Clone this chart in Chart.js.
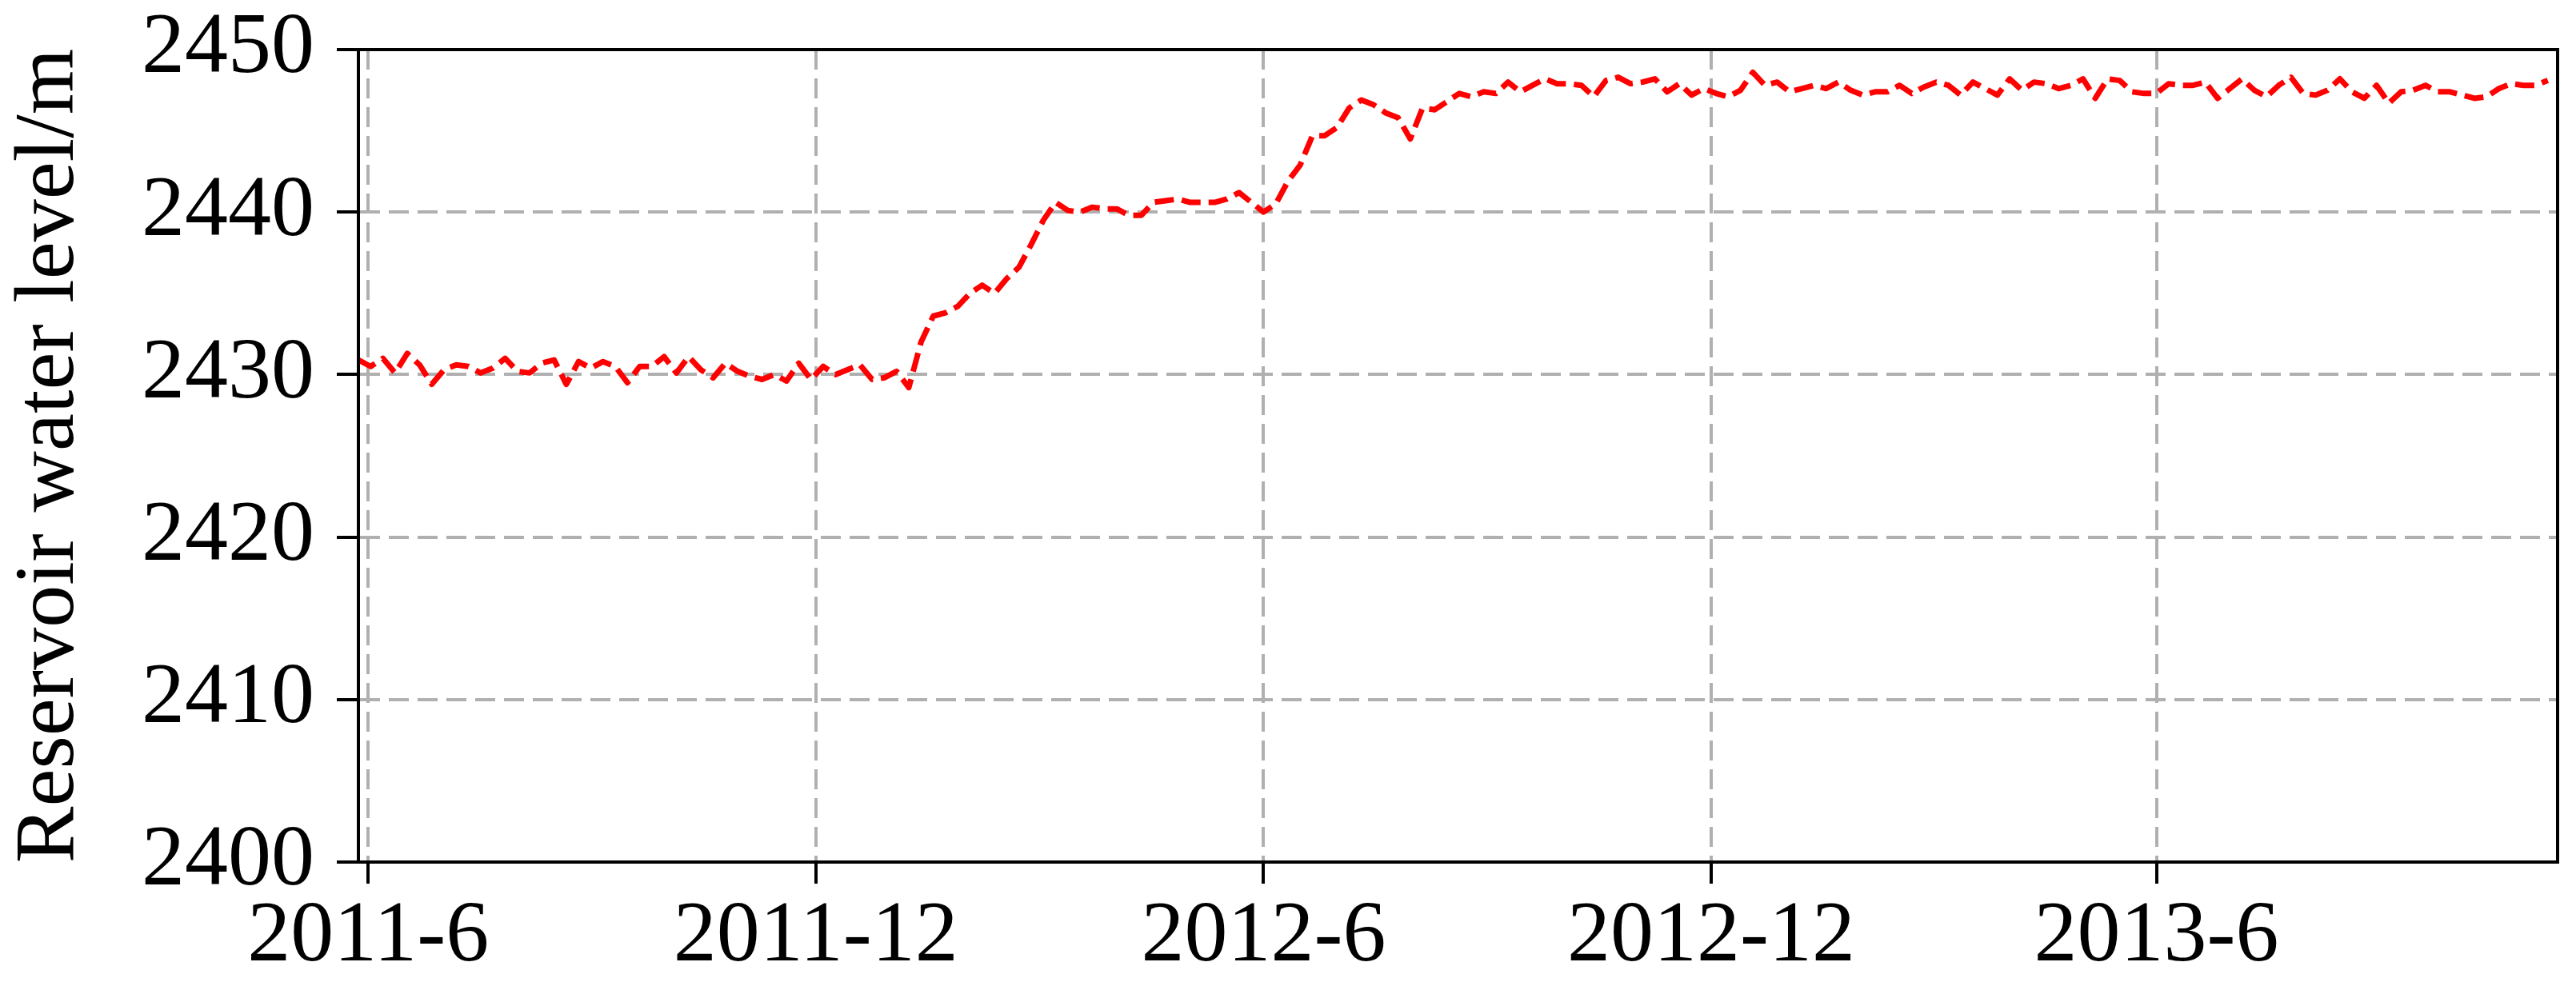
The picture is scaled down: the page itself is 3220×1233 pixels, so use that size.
<!DOCTYPE html>
<html>
<head>
<meta charset="utf-8">
<title>Reservoir water level</title>
<script src="https://cdn.jsdelivr.net/npm/chart.js@4/dist/chart.umd.min.js"></script>
<style>
  html, body { margin: 0; padding: 0; background: #fff; }
  canvas { display: block; }
</style>
</head>
<body>
<canvas id="levelChart" width="3220" height="1233"></canvas>
<script>
/* =========================
   Data (days counted from 2011-06-01)
========================= */
const tickDays = [0, 183, 366, 549, 731];
const tickLabels = ["2011-6", "2011-12", "2012-6", "2012-12", "2013-6"];
const yTicks = [2400, 2410, 2420, 2430, 2440, 2450];

// one reading every 5 days, first one on day -4
const firstDay = -4;
const stepDays = 5;

const levelsLowPool = [
  2430.9, 2430.5, 2431.0, 2430.1, 2431.3, 2430.6, 2429.4, 2430.3, 2430.6, 2430.5,
  2430.1, 2430.4, 2431.0, 2430.2, 2430.1, 2430.7, 2430.9, 2429.4, 2430.8, 2430.4,
  2430.8, 2430.5, 2429.5, 2430.5, 2430.5, 2431.1, 2430.1, 2431.1, 2430.3, 2429.8,
  2430.7, 2430.2, 2429.9, 2429.7, 2430.0, 2429.6, 2430.7, 2429.7, 2430.5, 2430.0,
  2430.3, 2430.6, 2429.7, 2429.8, 2430.2, 2429.2
];
const levelsFilling = [
  2432.0, 2433.6, 2433.8, 2434.2, 2435.0, 2435.5, 2435.0, 2435.9, 2436.6, 2438.0,
  2439.5, 2440.6, 2440.1, 2440.0, 2440.3, 2440.2, 2440.2, 2439.8, 2439.8, 2440.6,
  2440.7, 2440.8, 2440.6, 2440.6, 2440.6, 2440.8, 2441.2, 2440.6, 2440.0, 2440.5,
  2441.9, 2442.9
];
const levelsHigh2012 = [
  2444.7, 2444.7, 2445.2, 2446.4, 2446.9, 2446.6, 2446.1, 2445.8, 2444.5, 2446.4,
  2446.3, 2446.8, 2447.3, 2447.1, 2447.4, 2447.3, 2448.0, 2447.4, 2447.8, 2448.2,
  2447.9, 2447.9, 2447.8, 2447.1, 2448.1, 2448.3, 2447.9, 2448.0, 2448.2, 2447.4,
  2447.9, 2447.2, 2447.6, 2447.3, 2447.1, 2447.5, 2448.6, 2447.8, 2448.0, 2447.4,
  2447.6, 2447.8, 2447.6
];
const levelsHigh2013 = [
  2448.0, 2447.5, 2447.2, 2447.4, 2447.4, 2447.8, 2447.3, 2447.7, 2448.0, 2447.8,
  2447.2, 2448.0, 2447.6, 2447.2, 2448.2, 2447.5, 2448.0, 2447.9, 2447.6, 2447.8,
  2448.2, 2447.0, 2448.2, 2448.1, 2447.4, 2447.3, 2447.3, 2447.9, 2447.8,
  2447.8, 2448.0, 2447.0, 2447.6, 2448.2, 2447.5, 2447.1, 2447.8, 2448.3, 2447.3,
  2447.2, 2447.5, 2448.2, 2447.4, 2447.0, 2447.8, 2446.7, 2447.4, 2447.5, 2447.8,
  2447.4, 2447.4, 2447.2, 2447.0, 2447.1, 2447.6, 2447.9, 2447.8, 2447.8, 2448.1
];

const levels = [].concat(levelsLowPool, levelsFilling, levelsHigh2012, levelsHigh2013);
const points = levels.map((v, i) => ({ x: firstDay + i * stepDays, y: v }));

/* =========================
   Chart
========================= */
const FONT = "'Liberation Serif', 'Times New Roman', serif";

// matplotlib style box around the plot
const frameBox = {
  id: "frameBox",
  afterDraw(chart) {
    const { ctx, chartArea: a } = chart;
    ctx.save();
    ctx.strokeStyle = "#000";
    ctx.lineWidth = 4;
    ctx.strokeRect(a.left, a.top, a.right - a.left, a.bottom - a.top);
    ctx.restore();
  }
};

function draw() {
  const ctx = document.getElementById("levelChart").getContext("2d");
  new Chart(ctx, {
    type: "line",
    data: {
      datasets: [{
        data: points,
        borderColor: "#ff0000",
        borderWidth: 7,
        borderDash: [24, 10],
        borderCapStyle: "butt",
        borderJoinStyle: "round",
        pointRadius: 0,
        tension: 0,
        fill: false
      }]
    },
    options: {
      responsive: false,
      devicePixelRatio: 1,
      animation: false,
      layout: { padding: { top: 62, right: 23, left: 0, bottom: 0 } },
      plugins: {
        legend: { display: false },
        tooltip: { enabled: false }
      },
      scales: {
        x: {
          type: "linear",
          min: -4,
          max: 895,
          afterFit(scale) { scale.height = 155; },
          afterBuildTicks(scale) {
            scale.ticks = tickDays.map(v => ({ value: v }));
          },
          ticks: {
            autoSkip: false,
            maxRotation: 0,
            padding: 14,
            color: "#000",
            font: { family: FONT, size: 108, lineHeight: 1 },
            callback: (v, i) => tickLabels[i]
          },
          grid: {
            color: "#b0b0b0",
            lineWidth: 4,
            tickLength: 27,
            tickColor: "#000",
            tickWidth: 4
          },
          border: { display: true, color: "#000", width: 4, dash: [25, 11] }
        },
        y: {
          min: 2400,
          max: 2450,
          afterFit(scale) {
            scale.width = 448;
            scale.paddingTop = 0;
            scale.paddingBottom = 0;
          },
          afterBuildTicks(scale) {
            scale.ticks = yTicks.map(v => ({ value: v }));
          },
          ticks: {
            padding: 28,
            color: "#000",
            font: { family: FONT, size: 108, lineHeight: 1 },
            callback: v => String(v)
          },
          grid: {
            color: "#b0b0b0",
            lineWidth: 4,
            tickLength: 27,
            tickColor: "#000",
            tickWidth: 4
          },
          border: { display: true, color: "#000", width: 4, dash: [25, 11] },
          title: {
            display: true,
            text: "Reservoir water level/m",
            color: "#000",
            padding: 0,
            font: { family: FONT, size: 106 }
          }
        }
      }
    },
    plugins: [frameBox]
  });
}

if (document.fonts && document.fonts.load) {
  document.fonts.load("108px 'Liberation Serif'").then(draw, draw);
} else {
  draw();
}
</script>
</body>
</html>
